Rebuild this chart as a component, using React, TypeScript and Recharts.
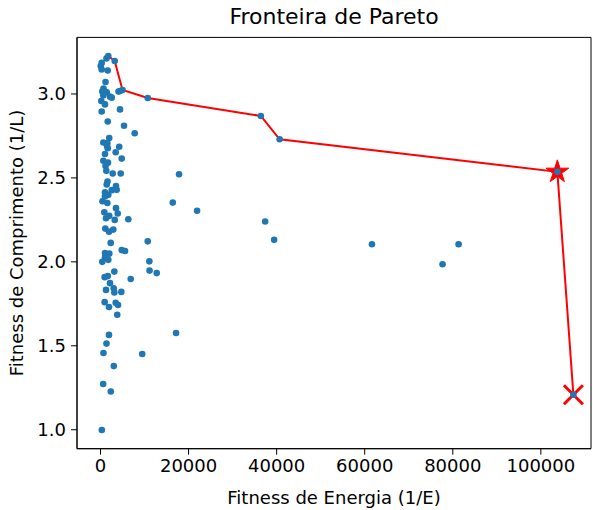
import { ScatterChart, Scatter, XAxis, YAxis, ReferenceArea, Label } from "recharts";

// fitness de energia (1/E) of every individual
const energy = [
  1770, 1360, 3230, 270, 50, 270, 1640, 1140, 680, 1180, 410, 1410, 4090, 4430, 5000, 640, 2160, 2550, 180, 1020, 10730, 270, 4430,
  1640, 5340, 7770, 1980, 640, 1550, 1480, 4250, 1640, 3450, 1020, 4820, 640, 1700, 1140, 1320, 2770, 4590, 17840,
  1590, 1410, 3520, 2550, 3680, 1020, 1770, 1020, 450, 1550, 16410, 3520, 860, 3910, 1980, 1250, 3230, 6320, 1090, 1930, 2910, 2320, 10730, 21930, 37390, 39430,
  4820, 5570, 1020, 2000, 1020, 1770, 410, 11090, 11140, 12770, 3140, 950, 1660, 6860, 2160, 3000, 1250, 3140, 4730, 950, 3450, 1930, 3980, 61640, 77680, 81320, 36410, 40680, 103750, 107390,
  3800, 1930, 17160, 1360, 680, 9480, 3020, 610, 2340, 300,
];

// fitness de comprimento (1/L), same order
const comprimento = [
  3.226, 3.212, 3.196, 3.185, 3.167, 3.146, 3.14, 3.071, 3.033, 3.012, 3.014, 3.01, 3.014, 3.018, 3.024, 2.991, 2.984, 2.978, 2.958, 2.938, 2.976, 2.896, 2.908,
  2.836, 2.811, 2.766, 2.738, 2.711, 2.707, 2.69, 2.686, 2.677, 2.653, 2.642, 2.615, 2.602, 2.591, 2.571, 2.542, 2.526, 2.526, 2.522,
  2.479, 2.461, 2.452, 2.427, 2.429, 2.414, 2.399, 2.389, 2.361, 2.351, 2.353, 2.32, 2.295, 2.288, 2.274, 2.26, 2.25, 2.254, 2.198, 2.18, 2.192, 2.113, 2.122, 2.304, 2.24, 2.131,
  2.07, 2.065, 2.052, 2.049, 2.028, 2.012, 2.0, 2.003, 1.948, 1.933, 1.942, 1.909, 1.915, 1.898, 1.873, 1.843, 1.833, 1.817, 1.821, 1.76, 1.756, 1.731, 1.743, 2.105, 1.986, 2.105, 2.869, 2.73, 2.536, 1.208,
  1.685, 1.565, 1.576, 1.513, 1.457, 1.451, 1.379, 1.272, 1.228, 0.998,
];

// pareto front
const paretoEnergy = [1770, 3230, 5000, 10730, 36410, 40680, 103750, 107390];
const paretoComprimento = [3.226, 3.196, 3.024, 2.976, 2.869, 2.73, 2.536, 1.208];

const xTicks = [0, 20000, 40000, 60000, 80000, 100000];
const yTicks = [1.0, 1.5, 2.0, 2.5, 3.0];

const X_MIN = -5337;
const X_MAX = 111388;
const Y_MIN = 0.887;
const Y_MAX = 3.337;

const FONT = "DejaVu Sans";

const points = energy.map((x, i) => ({ x, y: comprimento[i] }));
const pareto = paretoEnergy.map((x, i) => ({ x, y: paretoComprimento[i] }));
const starPoint = [pareto[pareto.length - 2]];
const crossPoint = [pareto[pareto.length - 1]];

const Dot = (props: any) => <circle cx={props.cx} cy={props.cy} r={3.3} fill="#1f77b4" />;

const Star = (props: any) => {
  const { cx, cy } = props;
  const outer = 12;
  const inner = outer * 0.382;
  const pts: string[] = [];
  for (let k = 0; k < 10; k++) {
    const r = k % 2 === 0 ? outer : inner;
    const a = -Math.PI / 2 + (k * Math.PI) / 5;
    pts.push(`${cx + r * Math.cos(a)},${cy + r * Math.sin(a)}`);
  }
  return <polygon points={pts.join(" ")} fill="red" stroke="red" strokeWidth={1} />;
};

const Cross = (props: any) => {
  const { cx, cy } = props;
  const s = 9.5;
  return (
    <g stroke="red" strokeWidth={3}>
      <line x1={cx - s} y1={cy - s} x2={cx + s} y2={cy + s} />
      <line x1={cx - s} y1={cy + s} x2={cx + s} y2={cy - s} />
    </g>
  );
};

const tickStyle = { fill: "#000", fontSize: 18, fontFamily: FONT };

export default function App() {
  return (
    <div style={{ position: "absolute", left: 0, top: 0, width: 593, height: 510, background: "#fff" }}>
      <div
        style={{
          position: "absolute",
          left: 77,
          width: 514,
          top: 4,
          textAlign: "center",
          fontFamily: FONT,
          fontSize: 22,
          color: "#000",
        }}
      >
        Fronteira de Pareto
      </div>
      <ScatterChart width={593} height={510} margin={{ top: 37.4, right: 2, bottom: 0, left: 0 }}>
        <XAxis
          type="number"
          dataKey="x"
          domain={[X_MIN, X_MAX]}
          ticks={xTicks}
          allowDataOverflow
          height={61.3}
          tick={tickStyle}
          tickSize={6}
          tickMargin={5}
          stroke="#000"
          tickLine={{ stroke: "#000" }}
          axisLine={{ stroke: "#000" }}
        >
          <Label
            content={({ viewBox }: any) => (
              <text
                x={77 + 257}
                y={504}
                textAnchor="middle"
                fontFamily={FONT}
                fontSize={18}
                fill="#000"
              >
                Fitness de Energia (1/E)
              </text>
            )}
          />
        </XAxis>
        <YAxis
          type="number"
          dataKey="y"
          domain={[Y_MIN, Y_MAX]}
          ticks={yTicks}
          allowDataOverflow
          width={77}
          tick={tickStyle}
          tickSize={6}
          tickMargin={5}
          tickFormatter={(v: number) => v.toFixed(1)}
          stroke="#000"
          tickLine={{ stroke: "#000" }}
          axisLine={{ stroke: "#000" }}
        >
          <Label
            content={() => (
              <text
                x={23}
                y={243}
                transform="rotate(-90 23 243)"
                textAnchor="middle"
                fontFamily={FONT}
                fontSize={18}
                fill="#000"
              >
                Fitness de Comprimento (1/L)
              </text>
            )}
          />
        </YAxis>
        <ReferenceArea x1={X_MIN} x2={X_MAX} y1={Y_MIN} y2={Y_MAX} fill="none" stroke="#000" strokeWidth={1} fillOpacity={0} />
        <Scatter data={pareto} line={{ stroke: "red", strokeWidth: 2 }} shape={() => <g />} isAnimationActive={false} />
        <Scatter data={starPoint} shape={Star} isAnimationActive={false} />
        <Scatter data={crossPoint} shape={Cross} isAnimationActive={false} />
        <Scatter data={points} shape={Dot} isAnimationActive={false} />
      </ScatterChart>
    </div>
  );
}
